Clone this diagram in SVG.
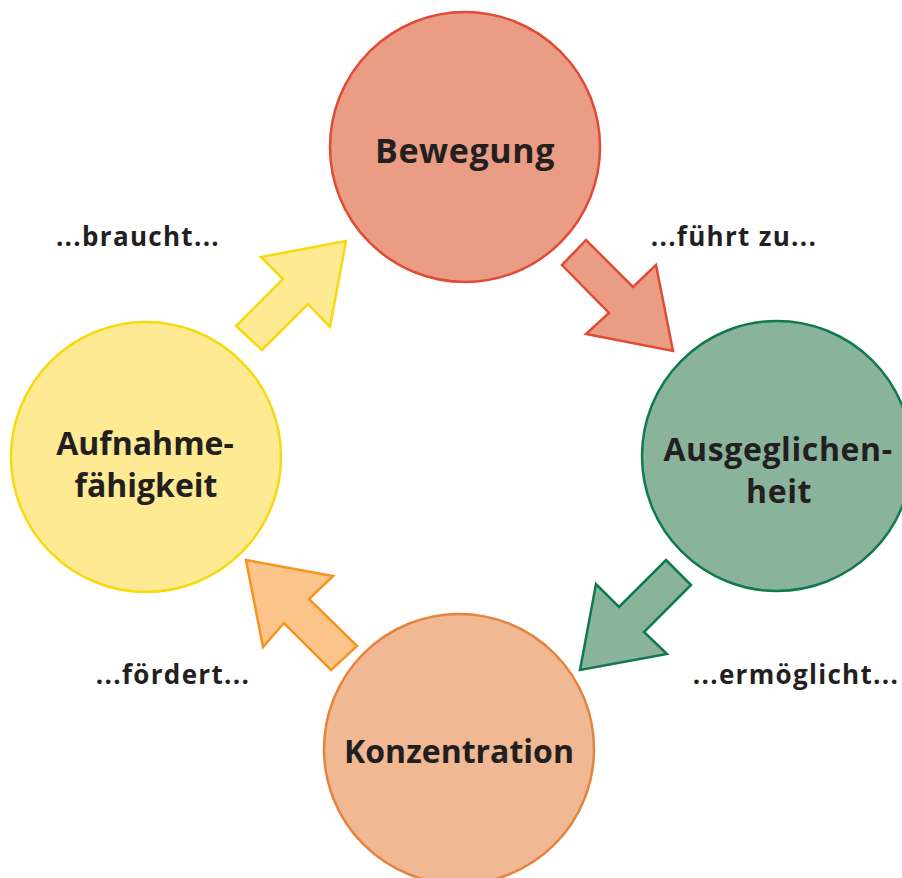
<svg xmlns="http://www.w3.org/2000/svg" width="902" height="878" viewBox="0 0 902 878">
<style>
.node{stroke-width:2.5}
.lbl{font-family:"Open Sans","Noto Sans","Liberation Sans",sans-serif;font-weight:bold;fill:#231F20;text-anchor:middle}
.big{font-size:32px;letter-spacing:0.6px}
.small{font-size:26px;letter-spacing:1.3px}
.arrow{stroke-width:2.5;stroke-linejoin:miter}
</style>
<rect width="902" height="878" fill="#FFFFFF"/>
<g id="connectors">
<polygon id="arrow-braucht" class="arrow" fill="#FDEA93" stroke="#F8D80F" points="346,241 261,257 283,279 236,326 262,350 308,304 330,327"/>
<polygon id="arrow-fuehrt" class="arrow" fill="#EB9C84" stroke="#E04B36" points="586,240 562,265 609,313 586,334 673,351 656,265 633,287"/>
<polygon id="arrow-ermoeglicht" class="arrow" fill="#8AB39B" stroke="#0F7A4F" points="666,560 691,585 644,632 667,654 580,670 596,584 619,607"/>
<polygon id="arrow-foerdert" class="arrow" fill="#FBC58A" stroke="#F7931E" points="246,560 333,576 309,599 357,646 331,670 284,623 263,647"/>
<text class="lbl small" x="138" y="246">...braucht...</text>
<text class="lbl small" x="734" y="246">...führt zu...</text>
<text class="lbl small" x="796" y="684">...ermöglicht...</text>
<text class="lbl small" x="173" y="684">...fördert...</text>
</g>
<g id="node-bewegung">
<circle class="node" cx="465" cy="147" r="135" fill="#EB9C84" stroke="#E04B36"/>
<text class="lbl big" x="465" y="163" style="font-size:34px">Bewegung</text>
</g>
<g id="node-ausgeglichenheit">
<circle class="node" cx="777" cy="456" r="135" fill="#8AB39B" stroke="#0F7A4F"/>
<text class="lbl big" x="778" y="461">Ausgeglichen-</text>
<text class="lbl big" x="779" y="503">heit</text>
</g>
<g id="node-konzentration">
<circle class="node" cx="459" cy="749" r="135" fill="#F0B994" stroke="#E5833F"/>
<text class="lbl big" x="459" y="763" style="letter-spacing:0">Konzentration</text>
</g>
<g id="node-aufnahmefaehigkeit">
<circle class="node" cx="146" cy="457" r="135" fill="#FDEA93" stroke="#F8D80F"/>
<text class="lbl big" x="145" y="455" style="letter-spacing:0">Aufnahme-</text>
<text class="lbl big" x="146" y="497" style="letter-spacing:0">fähigkeit</text>
</g>
</svg>
